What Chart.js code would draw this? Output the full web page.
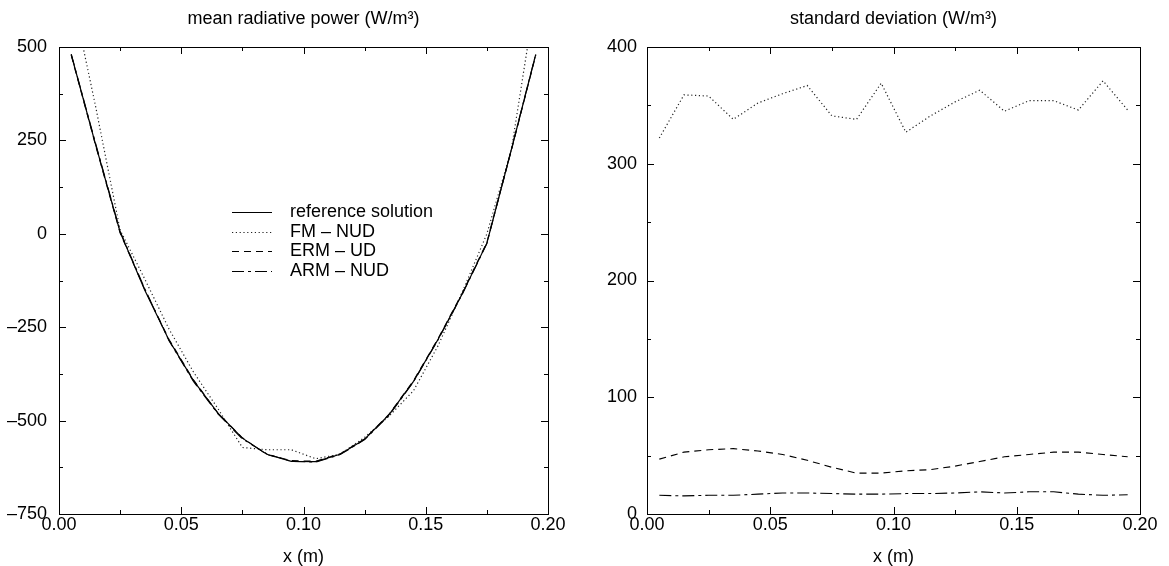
<!DOCTYPE html>
<html>
<head>
<meta charset="utf-8">
<script src="https://cdn.jsdelivr.net/npm/chart.js@4.4.0/dist/chart.umd.min.js"></script>
<style>
  html, body { margin: 0; padding: 0; background: #fff; }
  #wrap { position: relative; width: 1169px; height: 566px; overflow: hidden; }
  canvas { position: absolute; top: 0; }
  #mean { left: 0; }
  #sdev { left: 590px; }
</style>
</head>
<body>
<div id="wrap">
  <canvas id="mean" width="600" height="566"></canvas>
  <canvas id="sdev" width="579" height="566"></canvas>
</div>
<script>
// cell centres (m)
var xCells = [0.005, 0.015, 0.025, 0.035, 0.045, 0.055, 0.065, 0.075, 0.085, 0.095,
              0.105, 0.115, 0.125, 0.135, 0.145, 0.155, 0.165, 0.175, 0.185, 0.195];

// mean radiative power (W/m3)
var refMean = [480, 238, 5, -150, -285, -393, -480, -547, -590, -609,
               -610, -590, -550, -484, -395, -283, -160, -25, 225, 480];
var fmMean  = [650, 340, 10, -120, -255, -370, -468, -572, -578, -578,
               -602, -590, -545, -488, -420, -300, -155, 0, 225, 640];
var ermMean = [478, 236, 2, -148, -283, -391, -480, -546, -591, -607,
               -609, -589, -549, -483, -393, -281, -158, -23, 223, 478];
var armMean = [481, 241, 6, -146, -286, -395, -482, -549, -589, -609,
               -611, -591, -551, -486, -396, -284, -161, -26, 226, 481];

// standard deviation (W/m3)
var fmStd  = [322, 359, 358, 338, 352, 360, 367, 341, 338, 369,
              327, 341, 353, 363, 345, 354, 354, 346, 371, 346];
var ermStd = [47, 53, 55, 56, 54, 51, 46, 40, 35, 35,
              37, 38, 41, 45, 49, 51, 53, 53, 51, 49];
var armStd = [16, 15.5, 16, 16, 17, 18, 18, 17.5, 17, 17,
              17.5, 17.5, 18, 19, 18, 19, 19, 17, 16, 16.5];

var xTicks = [0, 0.05, 0.10, 0.15, 0.20];

var FONT = '"Liberation Sans", Arial, Helvetica, sans-serif';

function pts(ys) {
  return xCells.map(function(x, i) { return {x: x, y: ys[i]}; });
}

var styles = {
  ref: {borderColor: '#000', borderWidth: 1.2, borderDash: []},
  fm:  {borderColor: '#222', borderWidth: 1.2, borderDash: [1.2, 2.6]},
  erm: {borderColor: '#000', borderWidth: 1.1, borderDash: [7, 5]},
  arm: {borderColor: '#000', borderWidth: 1.1, borderDash: [12, 4, 3, 4]}
};

function ds(label, ys, st) {
  return {
    label: label, data: pts(ys),
    borderColor: st.borderColor, borderWidth: st.borderWidth, borderDash: st.borderDash,
    pointRadius: 0, fill: false, tension: 0
  };
}

// frame with inward ticks on all four sides
var boxTicks = {
  id: 'boxTicks',
  afterDraw: function(chart, args, opts) {
    var ctx = chart.ctx, a = chart.chartArea;
    var xs = chart.scales.x, ys = chart.scales.y;
    ctx.save();
    ctx.strokeStyle = '#000';
    ctx.lineWidth = 1;
    ctx.strokeRect(a.left + 0.5, a.top + 0.5, a.right - a.left, a.bottom - a.top);
    ctx.beginPath();
    var n = Math.round((xs.max - xs.min) / opts.xMinor);
    for (var i = 1; i < n; i++) {
      var px = Math.round(xs.getPixelForValue(xs.min + i * opts.xMinor)) + 0.5;
      var len = i % 2 === 0 ? opts.major : opts.minor;
      ctx.moveTo(px, a.bottom); ctx.lineTo(px, a.bottom - len);
      ctx.moveTo(px, a.top); ctx.lineTo(px, a.top + len);
    }
    var m = Math.round((ys.max - ys.min) / opts.yMinor);
    for (var j = 1; j < m; j++) {
      var py = Math.round(ys.getPixelForValue(ys.min + j * opts.yMinor)) + 0.5;
      var l2 = j % 2 === 0 ? opts.major : opts.minor;
      ctx.moveTo(a.left, py); ctx.lineTo(a.left + l2, py);
      ctx.moveTo(a.right, py); ctx.lineTo(a.right - l2, py);
    }
    ctx.stroke();
    ctx.restore();
  }
};

// title centred over the plot box
var topTitle = {
  id: 'topTitle',
  afterDraw: function(chart, args, opts) {
    var ctx = chart.ctx, a = chart.chartArea;
    ctx.save();
    ctx.font = '18px ' + FONT;
    ctx.fillStyle = '#000';
    ctx.textAlign = 'center';
    ctx.textBaseline = 'middle';
    ctx.fillText(opts.text, (a.left + a.right) / 2, opts.y);
    ctx.restore();
  }
};

// legend drawn inside the plot box
var innerLegend = {
  id: 'innerLegend',
  afterDraw: function(chart, args, opts) {
    if (!opts.show) return;
    var ctx = chart.ctx;
    chart.data.datasets.forEach(function(d, i) {
      var y = Math.round(opts.y + i * opts.rowGap) + 0.5;
      ctx.save();
      ctx.strokeStyle = d.borderColor;
      ctx.lineWidth = d.borderWidth;
      ctx.setLineDash(d.borderDash || []);
      ctx.beginPath();
      ctx.moveTo(opts.x, y);
      ctx.lineTo(opts.x + opts.sample, y);
      ctx.stroke();
      ctx.setLineDash([]);
      ctx.font = '18px ' + FONT;
      ctx.fillStyle = '#000';
      ctx.textAlign = 'left';
      ctx.textBaseline = 'middle';
      ctx.fillText(d.label, opts.x + opts.sample + opts.gap, y);
      ctx.restore();
    });
  }
};

function makeChart(id, datasets, yMin, yMax, yStep, yAxisW, padRight, yPad, titleText, legend) {
  return new Chart(document.getElementById(id), {
    type: 'line',
    data: {datasets: datasets},
    plugins: [boxTicks, topTitle, innerLegend],
    options: {
      responsive: false,
      animation: false,
      layout: {padding: {top: 47, right: padRight, left: 0, bottom: 0}},
      scales: {
        x: {
          type: 'linear', min: 0, max: 0.2,
          grid: {display: false, drawTicks: false},
          border: {display: false},
          afterBuildTicks: function(s) { s.ticks = xTicks.map(function(v) { return {value: v}; }); },
          afterFit: function(s) { s.height = 52; },
          ticks: {
            autoSkip: false, maxRotation: 0, padding: 2, color: '#000',
            font: {family: FONT, size: 18, lineHeight: 1},
            callback: function(v) { return Number(v).toFixed(2); }
          },
          title: {display: true, text: 'x (m)', color: '#000', padding: {top: 0, bottom: 0},
                  font: {family: FONT, size: 18, lineHeight: 1}}
        },
        y: {
          min: yMin, max: yMax,
          grid: {display: false, drawTicks: false},
          border: {display: false},
          afterFit: function(s) { s.width = yAxisW; },
          ticks: {stepSize: yStep, padding: yPad, color: '#000',
                  font: {family: FONT, size: 18, lineHeight: 1},
                  callback: function(v) { return String(v).replace('-', '\u2013'); }}
        }
      },
      plugins: {
        legend: {display: false},
        tooltip: {enabled: false},
        boxTicks: {xMinor: 0.025, yMinor: yStep / 2, major: 7, minor: 4},
        topTitle: {text: titleText, y: 19},
        innerLegend: legend
      }
    }
  });
}

makeChart('mean', [
  ds('reference solution', refMean, styles.ref),
  ds('FM \u2013 NUD', fmMean, styles.fm),
  ds('ERM \u2013 UD', ermMean, styles.erm),
  ds('ARM \u2013 NUD', armMean, styles.arm)
], -750, 500, 250, 59, 52, 12, 'mean radiative power (W/m\u00B3)',
  {show: true, x: 232, y: 212, rowGap: 19.5, sample: 40, gap: 18});

makeChart('sdev', [
  ds('FM \u2013 NUD', fmStd, styles.fm),
  ds('ERM \u2013 UD', ermStd, styles.erm),
  ds('ARM \u2013 NUD', armStd, styles.arm)
], 0, 400, 100, 57, 29, 10, 'standard deviation (W/m\u00B3)',
  {show: false});
</script>
</body>
</html>
